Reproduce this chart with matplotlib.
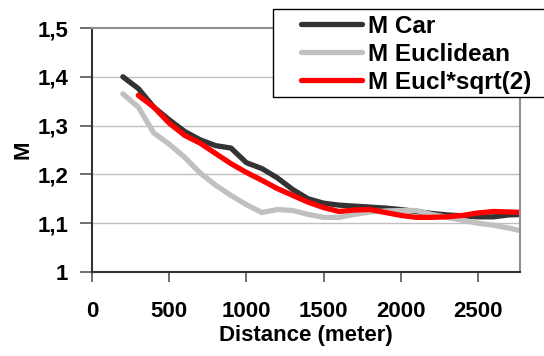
import matplotlib.pyplot as plt
from matplotlib.patches import Rectangle

plt.rcParams['font.family'] = ['Liberation Sans', 'DejaVu Sans']
plt.rcParams['font.weight'] = 'bold'

dist = [200, 300, 400, 500, 600, 700, 800, 900, 1000, 1100, 1200, 1300, 1400,
        1500, 1600, 1700, 1800, 1900, 2000, 2100, 2200, 2300, 2400, 2500, 2600,
        2700, 2800]

m_car = [1.400, 1.376, 1.338, 1.312, 1.288, 1.271, 1.259, 1.254, 1.224, 1.212,
         1.193, 1.169, 1.150, 1.141, 1.137, 1.135, 1.133, 1.131, 1.128, 1.124,
         1.120, 1.117, 1.115, 1.113, 1.113, 1.117, 1.118]

m_eucl = [1.365, 1.338, 1.285, 1.262, 1.235, 1.203, 1.178, 1.157, 1.138, 1.122,
          1.128, 1.126, 1.118, 1.112, 1.112, 1.118, 1.123, 1.125, 1.126, 1.126,
          1.118, 1.112, 1.106, 1.100, 1.096, 1.090, 1.083]

dist_sqrt2 = dist[1:]
m_sqrt2 = [1.362, 1.338, 1.305, 1.280, 1.264, 1.243, 1.222, 1.204, 1.188,
           1.171, 1.157, 1.143, 1.132, 1.124, 1.127, 1.128, 1.122, 1.116,
           1.112, 1.112, 1.113, 1.116, 1.121, 1.124, 1.123, 1.122]

xticks = [0, 500, 1000, 1500, 2000, 2500]
yticks = [1.0, 1.1, 1.2, 1.3, 1.4, 1.5]
ylabels = ['1', '1,1', '1,2', '1,3', '1,4', '1,5']

W, H = 544, 356
fig = plt.figure(figsize=(W / 100, H / 100), dpi=100)
ax = fig.add_axes([92 / W, 1 - 272 / H, 428 / W, 244 / H])

ax.plot(dist, m_car, color='#333333', lw=3.8, label='M Car', solid_capstyle='round')
ax.plot(dist, m_eucl, color='#c0c0c0', lw=3.8, label='M Euclidean', solid_capstyle='round')
ax.plot(dist_sqrt2, m_sqrt2, color='#ff0000', lw=3.8, label='M Eucl*sqrt(2)',
        solid_capstyle='round')

ax.set_xlim(0, 2772)
ax.set_ylim(1.0, 1.5)
ax.set_xticks(xticks)
ax.set_yticks(yticks)
ax.set_yticklabels(ylabels)
for y in yticks[1:-1]:
    ax.axhline(y, color='#c0c0c0', lw=1, zorder=0)

for side in ['left', 'bottom']:
    ax.spines[side].set_color('#333333')
    ax.spines[side].set_linewidth(1.5)
for side in ['top', 'right']:
    ax.spines[side].set_color('#909090')
    ax.spines[side].set_linewidth(1.5)

ax.tick_params(axis='x', direction='out', length=7, width=1.2, color='#555555',
               pad=14, labelsize=16)
ax.tick_params(axis='y', direction='out', length=9, width=1.2, color='#555555',
               pad=8, labelsize=16)

ax.set_xlabel('Distance (meter)', fontsize=16, fontweight='bold', labelpad=2)
ax.set_ylabel('M', fontsize=16, fontweight='bold', labelpad=3)

# legend box runs off the right edge of the figure
fig.patches.append(Rectangle((273 / W, 1 - 97 / H), 300 / W, 88 / H,
                             transform=fig.transFigure, facecolor='white',
                             edgecolor='black', lw=1.0, zorder=5))
leg = fig.legend(loc='upper left', bbox_to_anchor=(301 / W, 1 - 15 / H),
                 fontsize=17.5, frameon=False, handlelength=2.5,
                 handletextpad=0.25, borderpad=0, labelspacing=0.2,
                 borderaxespad=0)
leg.set_zorder(6)
for t in leg.get_texts():
    t.set_fontweight('bold')

fig.savefig('out.png', dpi=100)
